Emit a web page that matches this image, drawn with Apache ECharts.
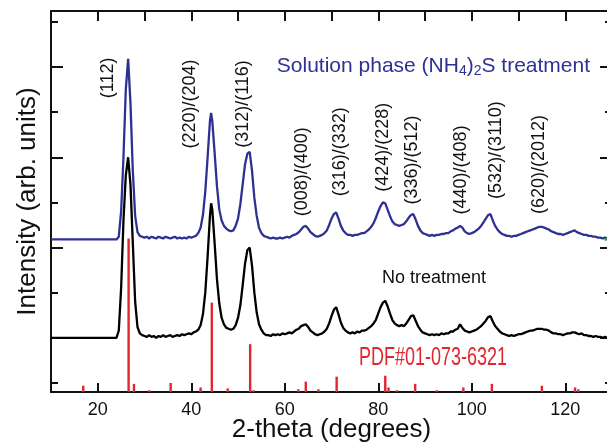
<!DOCTYPE html>
<html>
<head>
<meta charset="utf-8">
<script src="https://cdn.jsdelivr.net/npm/echarts@6/dist/echarts.min.js"></script>
<style>
  html, body { margin: 0; padding: 0; background: #fff; }
  #chart { width: 607px; height: 445px; }
</style>
</head>
<body>
<div id="chart"></div>
<script>
// 2-theta grid (degrees) shared by both traces
const twoTheta = [
  10, 24, 24.5, 25, 25.5, 26, 26.5, 27, 27.5, 28,
  28.5, 29, 29.5, 30, 30.5, 31, 31.5, 32, 32.5, 33,
  33.5, 34, 34.5, 35, 35.5, 36, 36.5, 37, 37.5, 38,
  38.5, 39, 39.5, 40, 40.5, 41, 41.5, 42, 42.5, 43,
  43.5, 44, 44.25, 44.5, 45, 45.5, 46, 46.5, 47, 47.5,
  48, 48.5, 49, 49.5, 50, 50.5, 51, 51.5, 52, 52.5,
  53, 53.5, 54, 54.5, 55, 55.5, 56, 56.5, 57, 57.5,
  58, 58.5, 59, 59.5, 60, 60.5, 61, 61.5, 62, 62.5,
  63, 63.5, 64, 64.5, 65, 65.5, 66, 66.5, 67, 67.5,
  68, 68.5, 69, 69.5, 70, 70.5, 71, 71.5, 72, 72.5,
  73, 73.5, 74, 74.5, 75, 75.5, 76, 76.5, 77, 77.5,
  78, 78.5, 79, 79.5, 80, 80.5, 81, 81.5, 82, 82.5,
  83, 83.5, 84, 84.5, 85, 85.5, 86, 86.5, 87, 87.5,
  88, 88.5, 89, 89.5, 90, 90.5, 91, 91.5, 92, 92.5,
  93, 93.5, 94, 94.5, 95, 95.5, 96, 96.5, 97, 97.5,
  98, 98.5, 99, 99.5, 100, 100.5, 101, 101.5, 102, 102.5,
  103, 103.5, 104, 104.5, 105, 105.5, 106, 106.5, 107, 107.5,
  108, 108.5, 109, 109.5, 110, 110.5, 111, 111.5, 112, 112.5,
  113, 113.5, 114, 114.5, 115, 115.5, 116, 116.5, 117, 117.5,
  118, 118.5, 119, 119.5, 120, 120.5, 121, 121.5, 122, 122.5,
  123, 123.5, 124, 124.5, 125, 125.5, 126, 126.5, 127, 127.5,
  128, 128.5, 129, 129.5, 130
]

// no treatment (black), offset units
const noTreatment = [
  0.0, 0.0, 0.08, 0.55, 1.3, 1.8, 2.0, 1.7, 1.05, 0.4,
  0.12, 0.05, 0.03, 0.02, 0.01, 0.03, 0.01, 0.02, 0.0, 0.02,
  0.01, 0.03, 0.01, 0.02, 0.03, 0.01, 0.02, 0.03, 0.02, 0.04,
  0.03, 0.04, 0.05, 0.04, 0.06, 0.07, 0.09, 0.14, 0.26, 0.5,
  0.9, 1.35, 1.49, 1.42, 1.05, 0.65, 0.38, 0.22, 0.15, 0.11,
  0.1, 0.09, 0.1, 0.14, 0.22, 0.36, 0.58, 0.82, 0.97, 1.0,
  0.8, 0.5, 0.28, 0.15, 0.09, 0.05, 0.03, 0.03, 0.02, 0.04,
  0.03, 0.04, 0.03, 0.05, 0.04, 0.05, 0.06, 0.05, 0.07, 0.09,
  0.1, 0.13, 0.14, 0.15, 0.12, 0.08, 0.06, 0.04, 0.03, 0.04,
  0.05, 0.07, 0.1, 0.16, 0.24, 0.31, 0.34, 0.26, 0.17, 0.11,
  0.08, 0.06, 0.05, 0.06, 0.05, 0.07, 0.06, 0.08, 0.08, 0.09,
  0.11, 0.13, 0.16, 0.2, 0.27, 0.34, 0.39, 0.41, 0.35, 0.27,
  0.2, 0.16, 0.14, 0.13, 0.14, 0.13, 0.16, 0.2, 0.24, 0.25,
  0.19, 0.13, 0.09, 0.06, 0.05, 0.04, 0.03, 0.04, 0.03, 0.04,
  0.03, 0.05, 0.04, 0.05, 0.05, 0.07, 0.07, 0.09, 0.1, 0.15,
  0.11, 0.08, 0.07, 0.06, 0.07, 0.08, 0.09, 0.11, 0.13, 0.16,
  0.19, 0.23, 0.24, 0.18, 0.13, 0.1, 0.07, 0.05, 0.04, 0.03,
  0.02, 0.03, 0.02, 0.03, 0.04, 0.04, 0.05, 0.06, 0.07, 0.08,
  0.08, 0.09, 0.1, 0.1, 0.1, 0.09, 0.09, 0.08, 0.06, 0.05,
  0.05, 0.04, 0.04, 0.03, 0.04, 0.05, 0.05, 0.06, 0.06, 0.05,
  0.04, 0.05, 0.03, 0.03, 0.02, 0.02, 0.01, 0.02, 0.01, 0.01,
  0.0, 0.01, 0.0, 0.01, 0.0
]

// solution phase (NH4)2S treatment (blue)
const solutionPhase = [
  1.09, 1.09, 1.12, 1.4, 2.0, 2.75, 3.09, 2.6, 1.85, 1.35,
  1.17, 1.13, 1.12, 1.11, 1.12, 1.1, 1.12, 1.11, 1.1, 1.12,
  1.11, 1.1, 1.12, 1.11, 1.1, 1.11, 1.12, 1.1, 1.11, 1.1,
  1.11, 1.1, 1.12, 1.11, 1.12, 1.13, 1.16, 1.22, 1.36, 1.62,
  2.0, 2.4, 2.49, 2.4, 2.05, 1.68, 1.42, 1.3, 1.24, 1.21,
  1.19, 1.18, 1.19, 1.24, 1.32, 1.48, 1.7, 1.92, 2.04, 2.06,
  1.85, 1.55, 1.35, 1.22, 1.16, 1.13, 1.12, 1.11, 1.1, 1.11,
  1.1, 1.1, 1.11, 1.1, 1.11, 1.12, 1.11, 1.13, 1.14, 1.15,
  1.17, 1.2, 1.23, 1.24, 1.21, 1.17, 1.15, 1.13, 1.12, 1.13,
  1.14, 1.16, 1.19, 1.25, 1.32, 1.37, 1.39, 1.32, 1.24, 1.19,
  1.16, 1.14, 1.14, 1.13, 1.14, 1.14, 1.15, 1.16, 1.16, 1.18,
  1.2, 1.23, 1.27, 1.33, 1.4, 1.46, 1.5, 1.49, 1.42, 1.35,
  1.29, 1.26, 1.25, 1.24, 1.25, 1.26, 1.29, 1.33, 1.36, 1.37,
  1.31, 1.24, 1.19, 1.16, 1.15, 1.14, 1.13, 1.14, 1.13, 1.14,
  1.14, 1.15, 1.15, 1.16, 1.16, 1.18, 1.19, 1.21, 1.22, 1.24,
  1.22, 1.18, 1.16, 1.15, 1.16, 1.17, 1.19, 1.21, 1.24, 1.28,
  1.32, 1.36, 1.37, 1.3, 1.24, 1.2, 1.17, 1.15, 1.14, 1.13,
  1.13, 1.12, 1.13, 1.13, 1.14, 1.15, 1.16, 1.17, 1.18, 1.19,
  1.2, 1.21, 1.22, 1.23, 1.23, 1.22, 1.21, 1.2, 1.18, 1.17,
  1.16, 1.15, 1.15, 1.14, 1.15, 1.16, 1.17, 1.18, 1.19, 1.17,
  1.16, 1.15, 1.14, 1.14, 1.13, 1.13, 1.12, 1.12, 1.11, 1.11,
  1.1, 1.11, 1.1, 1.1, 1.1
]

// stray green trace end at the right border
const greenTailX = [128.4, 130]
const greenTailY = [1.09, 1.1]

// PDF#01-073-6321 reference sticks
const pdfPos = [16.9, 26.6, 27.75, 31.0, 35.6, 42.0, 44.4, 47.8, 52.6, 53.3,
  62.9, 64.5, 67.2, 71.1, 81.5, 82.2, 84.0, 87.9, 92.5, 98.2,
  104.3, 115.0, 122.1, 122.8]
const pdfTop = [-0.53, 1.10, -0.51, -0.58, -0.50, -0.55, 0.39, -0.56, -0.07, -0.58,
  -0.57, -0.485, -0.57, -0.43, -0.42, -0.55, -0.58, -0.51, -0.58, -0.55,
  -0.51, -0.53, -0.55, -0.57]

// Miller index labels: x, y, text
const hklX = [22.2, 39.7, 51.1, 63.7, 71.8, 81.0, 87.2, 97.7, 105.2, 114.4]
const hklY = [2.88, 2.59, 2.59, 1.84, 2.06, 2.11, 1.97, 1.86, 2.08, 1.92]
const hklText = ['(112)', '(220)/(204)', '(312)/(116)', '(008)/(400)', '(316)/(332)',
  '(424)/(228)', '(336)/(512)', '(440)/(408)', '(532)/(3110)', '(620)/(2012)']

const xMin = 10
const xMax = 130
const yMin = -0.6
const yMax = 3.62
const xLabelValues = [20, 40, 60, 80, 100, 120]
const xTopTicks = [20, 30, 40, 50, 60, 70, 80, 90, 100, 110, 120]
const yMajor = [0, 1, 2, 3]
const yMinor = [-0.5, 0.5, 1.5, 2.5, 3.5]

const FONT = '"Liberation Sans", Arial, sans-serif'
const INK = '#111'
const BLUE = '#2e3192'
const RED = '#e0262f'

function yAxisDef (pos, ticks, len, withLine) {
  return {
    type: 'value',
    position: pos,
    min: yMin,
    max: yMax,
    axisLine: { show: withLine, onZero: false, lineStyle: { color: INK, width: 2 } },
    axisTick: { show: true, inside: true, length: len, customValues: ticks, lineStyle: { color: INK, width: 2 } },
    axisLabel: { show: false },
    splitLine: { show: false }
  }
}

const chart = echarts.init(document.getElementById('chart'), null, { renderer: 'canvas' })

const leftMajor = yAxisDef('left', yMajor, 12, true)
leftMajor.name = 'Intensity (arb. units)'
leftMajor.nameLocation = 'middle'
leftMajor.nameGap = 10
leftMajor.nameMoveOverlap = false
leftMajor.nameTextStyle = { fontFamily: FONT, fontSize: 26, color: INK }

const option = {
  animation: false,
  backgroundColor: '#fff',
  grid: { left: 51, right: -5, top: 11, bottom: 53, containLabel: false, outerBoundsMode: 'none' },
  xAxis: [
    {
      type: 'value',
      position: 'bottom',
      min: xMin,
      max: xMax,
      name: '2-theta (degrees)',
      nameLocation: 'middle',
      nameGap: 25,
      nameMoveOverlap: false,
      nameTextStyle: { fontFamily: FONT, fontSize: 26, color: INK },
      axisLine: { onZero: false, lineStyle: { color: INK, width: 2 } },
      axisTick: { inside: true, length: 9, customValues: xLabelValues, lineStyle: { color: INK, width: 2 } },
      axisLabel: { customValues: xLabelValues, margin: 9, fontFamily: FONT, fontSize: 18, color: INK },
      splitLine: { show: false }
    },
    {
      type: 'value',
      position: 'top',
      min: xMin,
      max: xMax,
      axisLine: { onZero: false, lineStyle: { color: INK, width: 2 } },
      axisTick: { inside: true, length: 10, customValues: xTopTicks, lineStyle: { color: INK, width: 2 } },
      axisLabel: { show: false },
      splitLine: { show: false }
    }
  ],
  yAxis: [
    leftMajor,
    yAxisDef('left', yMinor, 7, false),
    yAxisDef('right', yMajor, 12, false),
    yAxisDef('right', yMinor, 7, false)
  ],
  series: [
    {
      name: 'No treatment',
      type: 'line',
      symbol: 'none',
      lineStyle: { color: '#000', width: 2.3 },
      data: twoTheta.map((x, i) => [x, noTreatment[i]]),
      z: 2
    },
    {
      name: 'Solution phase',
      type: 'line',
      symbol: 'none',
      lineStyle: { color: BLUE, width: 2.3 },
      data: twoTheta.map((x, i) => [x, solutionPhase[i]]),
      z: 3
    },
    {
      name: 'tail',
      type: 'line',
      symbol: 'none',
      lineStyle: { color: '#2a9a3a', width: 2.6 },
      data: greenTailX.map((x, i) => [x, greenTailY[i]]),
      z: 3
    },
    {
      name: 'PDF#01-073-6321',
      type: 'custom',
      data: pdfPos.map((x, i) => [x, pdfTop[i]]),
      renderItem: function (params, api) {
        const p0 = api.coord([api.value(0), yMin])
        const p1 = api.coord([api.value(0), api.value(1)])
        return {
          type: 'line',
          shape: { x1: p0[0], y1: p0[1], x2: p1[0], y2: p1[1] },
          style: { stroke: RED, lineWidth: 2.4 }
        }
      },
      z: 4
    },
    {
      name: 'hkl',
      type: 'scatter',
      symbolSize: 0,
      silent: true,
      itemStyle: { opacity: 1, color: 'transparent' },
      data: hklX.map((x, i) => ({ value: [x, hklY[i]], name: hklText[i] })),
      label: {
        show: true,
        position: 'inside',
        rotate: 90,
        formatter: '{b}',
        fontFamily: FONT,
        fontSize: 18,
        color: INK,
        opacity: 1
      },
      z: 5
    },
    {
      name: 'notes',
      type: 'scatter',
      symbolSize: 0,
      silent: true,
      itemStyle: { opacity: 1, color: 'transparent' },
      data: [
        {
          value: [58.3, 3.01],
          label: {
            show: true,
            position: 'right',
            distance: 0,
            opacity: 1,
            formatter: '{a|Solution phase (NH}{s|4}{a|)}{s|2}{a|S treatment}',
            rich: {
              a: { fontFamily: FONT, fontSize: 21, color: BLUE, lineHeight: 24, verticalAlign: 'middle' },
              s: { fontFamily: FONT, fontSize: 14, color: BLUE, lineHeight: 24, verticalAlign: 'bottom' }
            }
          }
        },
        {
          value: [80.8, 0.667],
          label: {
            show: true,
            position: 'right',
            distance: 0,
            opacity: 1,
            formatter: 'No treatment',
            fontFamily: FONT,
            fontSize: 18,
            color: INK
          }
        }
      ],
      z: 5
    }
  ]
}

chart.setOption(option)

// condensed red reference caption, placed through the axis scales
const pdfAt = chart.convertToPixel({ xAxisIndex: 0, yAxisIndex: 0 }, [91.7, -0.222])
chart.setOption({
  graphic: [{
    type: 'text',
    x: pdfAt[0],
    y: pdfAt[1],
    scaleX: 0.72,
    style: {
      text: 'PDF#01-073-6321',
      fill: RED,
      font: '25px ' + FONT,
      align: 'center',
      verticalAlign: 'middle'
    },
    z: 10
  }]
})
</script>
</body>
</html>
